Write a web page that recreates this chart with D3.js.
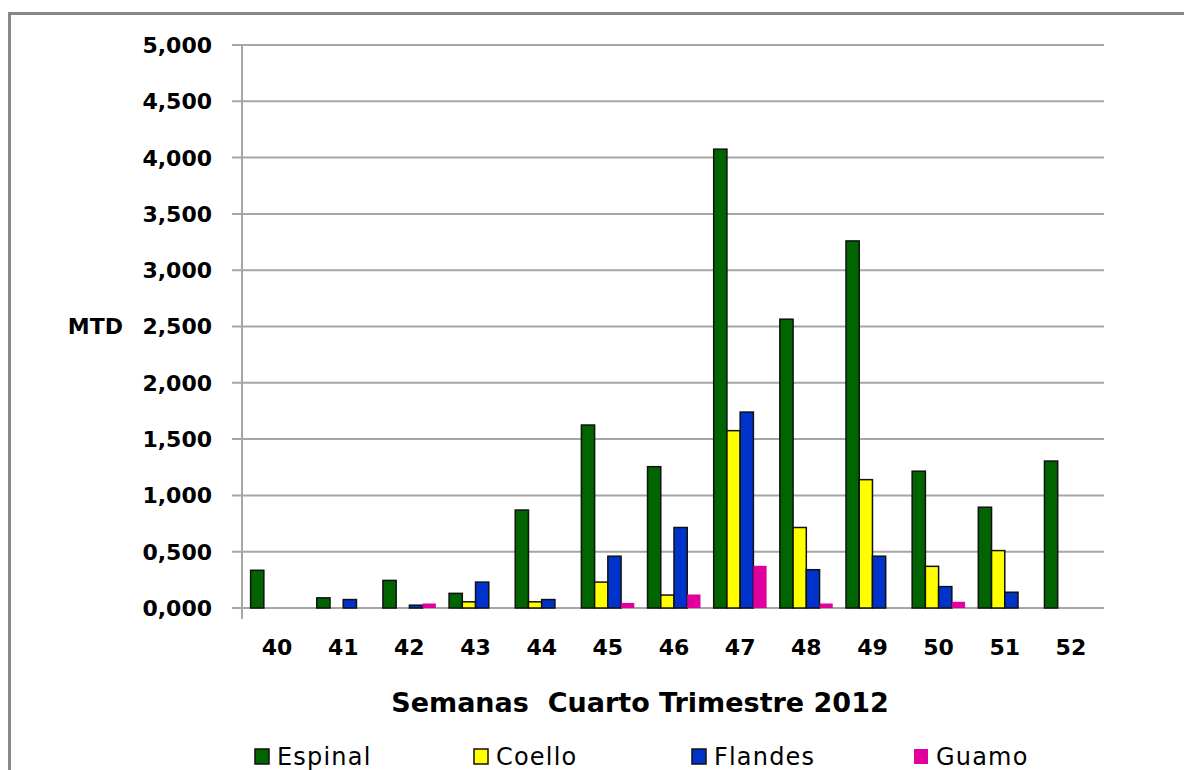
<!DOCTYPE html>
<html>
<head>
<meta charset="utf-8">
<script src="https://cdnjs.cloudflare.com/ajax/libs/d3/7.8.5/d3.min.js"></script>
<style>
  body { margin: 0; background: #fff; }
</style>
</head>
<body>
<div id="chart"></div>
<script>
// data
var weeks = ["40", "41", "42", "43", "44", "45", "46", "47", "48", "49", "50", "51", "52"];
var seriesNames = ["Espinal", "Coello", "Flandes", "Guamo"];
var espinal = [335, 90, 245, 130, 870, 1625, 1255, 4075, 2565, 3260, 1215, 895, 1305];
var coello  = [0, 0, 0, 55, 55, 230, 115, 1575, 715, 1140, 370, 510, 0];
var flandes = [0, 75, 25, 230, 75, 460, 715, 1740, 340, 460, 190, 140, 0];
var guamo   = [0, 0, 40, 0, 0, 45, 120, 375, 40, 0, 55, 0, 0];
var tickValues = [0, 500, 1000, 1500, 2000, 2500, 3000, 3500, 4000, 4500, 5000];
var tickLabels = ["0,000", "0,500", "1,000", "1,500", "2,000", "2,500", "3,000", "3,500", "4,000", "4,500", "5,000"];
var colors = ["#006400", "#ffff00", "#0033cc", "#e0009e"];

var W = 1184, H = 770;
var svg = d3.select("#chart").append("svg")
    .attr("width", W)
    .attr("height", H);

// outer frame (runs off the right and bottom edges)
svg.append("rect")
    .attr("x", 9.5).attr("y", 13.5)
    .attr("width", 1300).attr("height", 900)
    .attr("fill", "#fff")
    .attr("stroke", "#888")
    .attr("stroke-width", 3);

var x = d3.scaleBand()
    .domain(weeks)
    .range([244, 1104])
    .paddingInner(0.2)
    .paddingOuter(0.1);

var xs = d3.scaleBand()
    .domain(seriesNames)
    .range([0, x.bandwidth()]);

var y = d3.scaleLinear()
    .domain([0, 5000])
    .range([608, 45]);

// gridlines + tick marks
svg.append("g")
    .selectAll("line")
    .data(tickValues)
    .enter()
    .append("line")
    .attr("x1", 232)
    .attr("x2", 1104)
    .attr("y1", function(d) { return y(d); })
    .attr("y2", function(d) { return y(d); })
    .attr("stroke", "#a6a6a6")
    .attr("stroke-width", 2);

// y axis line
svg.append("line")
    .attr("x1", 242).attr("x2", 242)
    .attr("y1", y(5000)).attr("y2", 619)
    .attr("stroke", "#a6a6a6")
    .attr("stroke-width", 2);

// y tick labels
svg.append("g")
    .selectAll("text")
    .data(tickValues)
    .enter()
    .append("text")
    .attr("x", 212)
    .attr("y", function(d) { return y(d); })
    .attr("dy", "0.36em")
    .attr("text-anchor", "end")
    .style("font-family", "DejaVu Sans")
    .style("font-weight", "bold")
    .style("font-size", "22px")
    .text(function(d, i) { return tickLabels[i]; });

svg.append("text")
    .attr("x", 123)
    .attr("y", y(2500))
    .attr("dy", "0.36em")
    .attr("text-anchor", "end")
    .style("font-family", "DejaVu Sans")
    .style("font-weight", "bold")
    .style("font-size", "22px")
    .text("MTD");

// bars
var rows = weeks.map(function(w, i) {
  return { week: w, values: [espinal[i], coello[i], flandes[i], guamo[i]] };
});

var groups = svg.selectAll("g.week")
    .data(rows)
    .enter()
    .append("g")
    .attr("class", "week")
    .attr("transform", function(d) { return "translate(" + x(d.week) + ",0)"; });

groups.selectAll("rect")
    .data(function(d) {
      return d.values.map(function(v, j) { return { name: seriesNames[j], value: v, idx: j }; })
        .filter(function(e) { return e.value > 0; });
    })
    .enter()
    .append("rect")
    .attr("x", function(d) { return xs(d.name); })
    .attr("y", function(d) { return y(d.value); })
    .attr("width", xs.bandwidth())
    .attr("height", function(d) { return y(0) - y(d.value); })
    .attr("fill", function(d) { return colors[d.idx]; })
    .attr("stroke", function(d) { return d.idx == 3 ? "none" : "#111"; })
    .attr("stroke-width", 1.5);

// x labels
svg.append("g")
    .selectAll("text")
    .data(weeks)
    .enter()
    .append("text")
    .attr("x", function(d) { return x(d) + x.bandwidth() / 2; })
    .attr("y", 655)
    .attr("text-anchor", "middle")
    .style("font-family", "DejaVu Sans")
    .style("font-weight", "bold")
    .style("font-size", "22px")
    .text(function(d) { return d; });

// axis title
svg.append("text")
    .attr("x", 640)
    .attr("y", 712)
    .attr("text-anchor", "middle")
    .style("font-family", "DejaVu Sans")
    .style("font-weight", "bold")
    .style("font-size", "27px")
    .style("white-space", "pre")
    .text("Semanas  Cuarto Trimestre 2012");

// legend
var legendX = [255, 474, 692, 914];
var legend = svg.selectAll("g.legend")
    .data(seriesNames)
    .enter()
    .append("g")
    .attr("class", "legend")
    .attr("transform", function(d, i) { return "translate(" + legendX[i] + ",749)"; });

legend.append("rect")
    .attr("width", 14)
    .attr("height", 15)
    .attr("fill", function(d, i) { return colors[i]; })
    .attr("stroke", function(d, i) { return i == 3 ? "none" : "#111"; })
    .attr("stroke-width", 1.5);

legend.append("text")
    .attr("x", 22)
    .attr("y", 16)
    .style("font-family", "DejaVu Sans")
    .style("font-size", "24px")
    .style("letter-spacing", "1.2px")
    .text(function(d) { return d; });
</script>
</body>
</html>
